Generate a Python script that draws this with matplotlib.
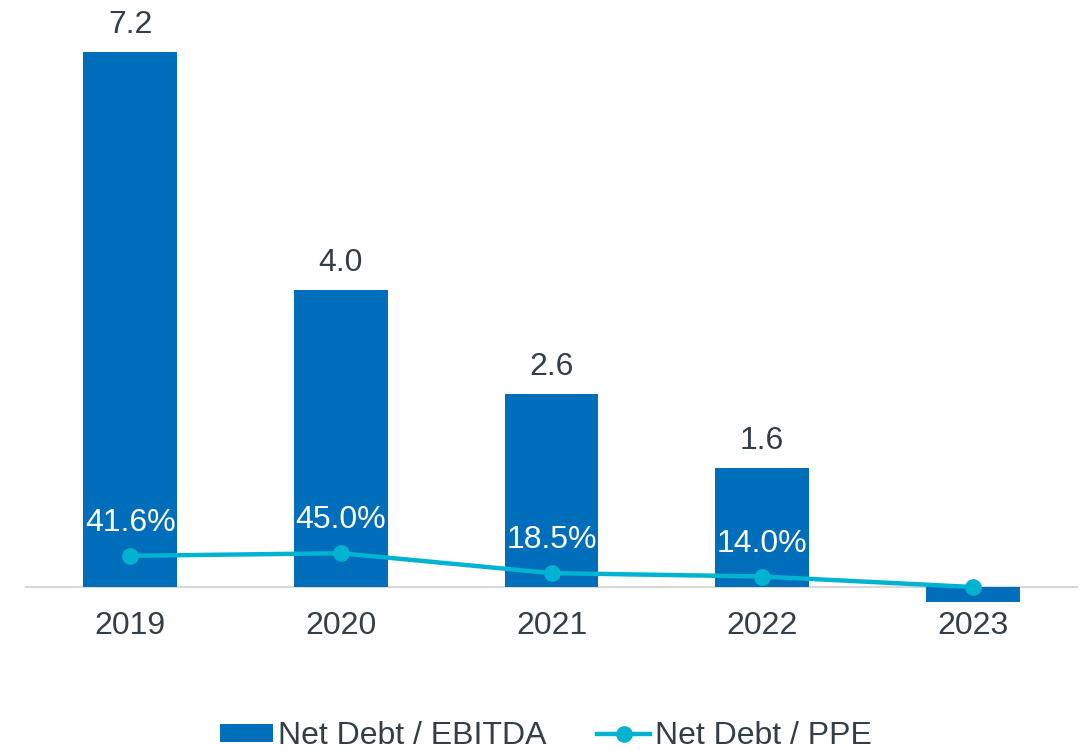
import matplotlib
matplotlib.use('Agg')
from matplotlib import pyplot as plt
import numpy as np

plt.rcParams['font.family'] = ['Liberation Sans', 'DejaVu Sans']

years = ['2019', '2020', '2021', '2022', '2023']
debt_ebitda = [7.2, 4.0, 2.6, 1.6, -0.2]
debt_ppe = [0.416, 0.450, 0.185, 0.140, 0.0]
# 2023 has no data labels in the original
ebitda_labels = ['7.2', '4.0', '2.6', '1.6', '']
ppe_labels = ['41.6%', '45.0%', '18.5%', '14.0%', '']

bar_color = '#006EBA'
line_color = '#00B4D1'
text_color = '#333F48'
fs = 23

W, H = 1092, 751
fig = plt.figure(figsize=(W / 100, H / 100), dpi=100)
left, right, top, bottom = 25, 1078, 10, 605
ax = fig.add_axes([left / W, 1 - bottom / H, (right - left) / W, (bottom - top) / H])

x = np.arange(len(years))
ax.axhline(0, color='#D9D9D9', lw=1.6, zorder=0)
bars = ax.bar(x, debt_ebitda, width=0.445, color=bar_color, zorder=2, label='Net Debt / EBITDA')

ax.set_xlim(-0.5, len(years) - 0.5)
ax.set_ylim(-0.242, 7.766)
ax.set_xticks(x)
ax.set_xticklabels(years, fontsize=fs, color=text_color)
ax.tick_params(axis='x', length=0, pad=4)
ax.set_yticks([])
for s in ax.spines.values():
    s.set_visible(False)

for xi, v, lab in zip(x, debt_ebitda, ebitda_labels):
    if lab:
        ax.annotate(lab, (xi, v), xytext=(0, 19), textcoords='offset pixels',
                    ha='center', va='baseline', fontsize=fs, color=text_color)

# secondary axis for the percentage line, same zero line
ax2 = ax.twinx()
ax2.set_ylim(-0.242 * 0.99, 7.766 * 0.99)
ax2.set_yticks([])
for s in ax2.spines.values():
    s.set_visible(False)
ax2.plot(x, debt_ppe, color=line_color, lw=3.2, marker='o', ms=11, zorder=3,
         label='Net Debt / PPE')
for xi, v, lab in zip(x, debt_ppe, ppe_labels):
    if lab:
        ax2.annotate(lab, (xi, v), xytext=(0, 25), textcoords='offset pixels',
                     ha='center', va='baseline', fontsize=fs, color='white')

h1, l1 = ax.get_legend_handles_labels()
h2, l2 = ax2.get_legend_handles_labels()
fig.legend(h1 + h2, l1 + l2, loc='center', bbox_to_anchor=(0.5, 1 - 736 / H),
           ncol=2, frameon=False, fontsize=fs, labelcolor=text_color,
           handlelength=1.65, handleheight=0.5, handletextpad=0.15, columnspacing=1.6)

fig.savefig('out.png', dpi=100)
